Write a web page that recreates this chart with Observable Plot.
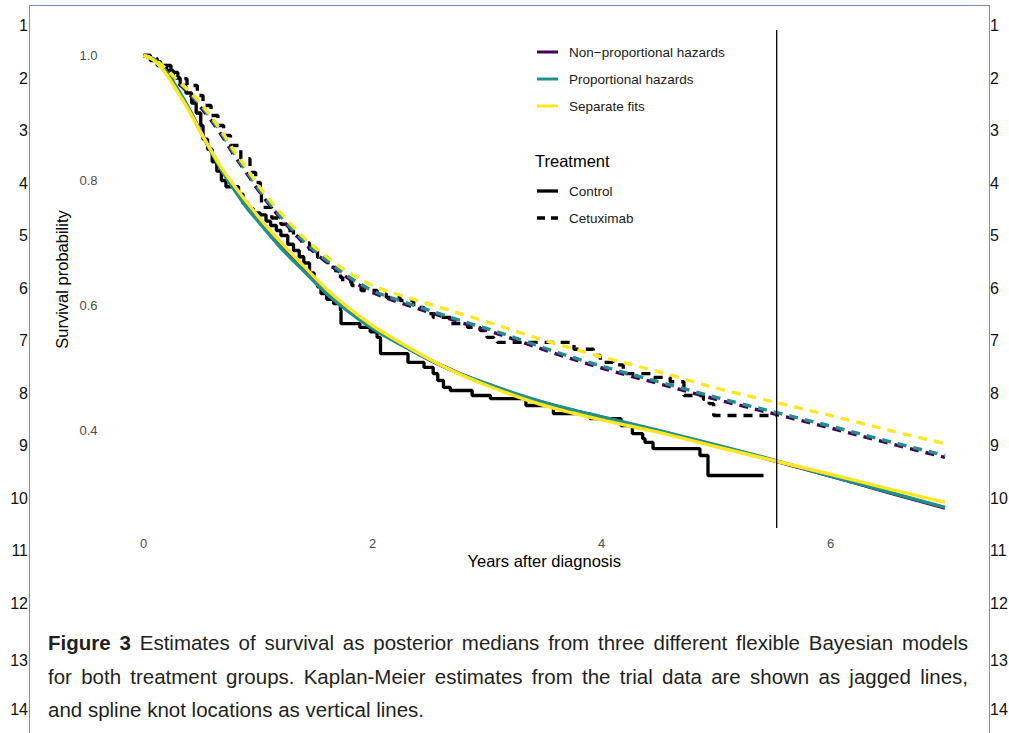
<!DOCTYPE html>
<html><head><meta charset="utf-8">
<script src="https://cdn.jsdelivr.net/npm/d3@7"></script>
<script src="https://cdn.jsdelivr.net/npm/@observablehq/plot@0.6"></script>
<style>
html,body{margin:0;padding:0;background:#fff;}
#page{position:relative;width:1009px;height:733px;overflow:hidden;font-family:"Liberation Sans",Arial,Helvetica,sans-serif;background:#fff;}
#frame{position:absolute;left:29px;top:5px;width:961px;height:800px;border:1px solid #7390b8;box-sizing:border-box;}
.ln{position:absolute;font-size:16px;line-height:18px;color:#111;}
.lnL{left:0;width:28px;text-align:right;}
.lnR{left:990px;text-align:left;}
#chart{position:absolute;left:0;top:0;}
#legend{position:absolute;left:0;top:0;pointer-events:none;}
.cap{position:absolute;left:48px;width:920px;font-size:20.5px;line-height:24px;color:#231f20;white-space:nowrap;}
.just{text-align:justify;text-align-last:justify;white-space:normal;}
</style>
</head><body>
<div id="page">
  <div id="frame"></div>
  <div id="chart"></div>
  <svg id="legend" width="1009" height="600"></svg>
  <div class="cap just" style="top:631px;"><b>Figure 3</b> Estimates of survival as posterior medians from three different flexible Bayesian models</div>
  <div class="cap just" style="top:665px;">for both treatment groups. Kaplan-Meier estimates from the trial data are shown as jagged lines,</div>
  <div class="cap" style="top:698px;">and spline knot locations as vertical lines.</div>
</div>
<script>
// ---------- data ----------
const lineNumbers = ["1","2","3","4","5","6","7","8","9","10","11","12","13","14"];
const lineNumberY = [26, 79, 131, 184, 236, 289, 341, 394, 446, 499, 551, 604, 661, 710];

const xTicks = [0, 2, 4, 6];
const yTicks = [0.4, 0.6, 0.8, 1.0];
const knots = [5.53];

const modelNames = ["Non\u2212proportional hazards", "Proportional hazards", "Separate fits"];
const modelColors = ["#440154", "#21908C", "#FDE725"];
const armNames = ["Control", "Cetuximab"];

const times = [0, 0.1, 0.2, 0.3, 0.4, 0.5, 0.6, 0.7, 0.8, 0.9, 1.0, 1.2, 1.4, 1.6, 1.8, 2.0, 2.25, 2.5, 2.75, 3.0, 3.25, 3.5, 3.75, 4.0, 4.5, 5.0, 5.5, 6.0, 6.5, 7.0];

const ctrlNPH = [1, 0.992, 0.972, 0.944, 0.913, 0.878, 0.844, 0.813, 0.786, 0.761, 0.738, 0.696, 0.659, 0.623, 0.592, 0.566, 0.538, 0.513, 0.492, 0.474, 0.458, 0.444, 0.432, 0.421, 0.399, 0.376, 0.352, 0.327, 0.301, 0.276];
const ctrlPH  = [1, 0.993, 0.974, 0.946, 0.914, 0.878, 0.843, 0.811, 0.783, 0.757, 0.735, 0.692, 0.655, 0.619, 0.589, 0.563, 0.537, 0.513, 0.492, 0.475, 0.459, 0.445, 0.433, 0.422, 0.400, 0.377, 0.353, 0.327, 0.302, 0.277];
const ctrlSep = [1, 0.991, 0.970, 0.941, 0.911, 0.877, 0.845, 0.815, 0.790, 0.766, 0.743, 0.701, 0.663, 0.626, 0.595, 0.568, 0.540, 0.514, 0.491, 0.472, 0.455, 0.440, 0.428, 0.417, 0.397, 0.374, 0.352, 0.330, 0.307, 0.285];

const cetNPH = [1, 0.993, 0.977, 0.957, 0.938, 0.917, 0.894, 0.867, 0.838, 0.812, 0.785, 0.739, 0.700, 0.669, 0.642, 0.621, 0.604, 0.589, 0.574, 0.560, 0.545, 0.529, 0.514, 0.500, 0.475, 0.450, 0.427, 0.404, 0.380, 0.357];
const cetPH  = [1, 0.993, 0.978, 0.959, 0.941, 0.920, 0.897, 0.870, 0.841, 0.815, 0.788, 0.742, 0.703, 0.672, 0.645, 0.624, 0.607, 0.592, 0.577, 0.563, 0.548, 0.532, 0.517, 0.503, 0.478, 0.453, 0.430, 0.407, 0.383, 0.360];
const cetSep = [1, 0.993, 0.978, 0.960, 0.943, 0.923, 0.900, 0.874, 0.845, 0.820, 0.793, 0.748, 0.709, 0.678, 0.652, 0.632, 0.616, 0.602, 0.588, 0.574, 0.559, 0.544, 0.531, 0.518, 0.494, 0.468, 0.446, 0.424, 0.401, 0.379];

// Kaplan-Meier step points (time, survival)
const kmCtrlTime = [0, 0.06, 0.12, 0.2, 0.26, 0.32, 0.37, 0.42, 0.46, 0.5, 0.52, 0.56, 0.6, 0.64, 0.68, 0.72, 0.83, 0.87, 0.91, 0.96, 1.02, 1.07, 1.11, 1.16, 1.2, 1.26, 1.31, 1.36, 1.4, 1.45, 1.49, 1.52, 1.55, 1.6, 1.66, 1.72, 1.725, 1.89, 1.98, 2.04, 2.07, 2.31, 2.45, 2.53, 2.57, 2.62, 2.68, 2.87, 3.03, 3.34, 3.58, 3.90, 4.17, 4.27, 4.36, 4.38, 4.45, 4.86, 4.93, 5.415];
const kmCtrlSurv = [1, 0.992, 0.984, 0.976, 0.964, 0.952, 0.94, 0.924, 0.908, 0.888, 0.866, 0.85, 0.83, 0.815, 0.8, 0.79, 0.778, 0.763, 0.755, 0.748, 0.745, 0.735, 0.728, 0.72, 0.712, 0.698, 0.688, 0.678, 0.668, 0.652, 0.64, 0.63, 0.619, 0.61, 0.603, 0.592, 0.571, 0.565, 0.558, 0.549, 0.523, 0.509, 0.501, 0.491, 0.48, 0.469, 0.464, 0.456, 0.451, 0.44, 0.427, 0.419, 0.408, 0.395, 0.387, 0.381, 0.371, 0.36, 0.328, 0.328];

const kmCetTime = [0, 0.06, 0.12, 0.15, 0.24, 0.30, 0.38, 0.47, 0.52, 0.59, 0.65, 0.70, 0.76, 0.85, 0.93, 0.98, 1.02, 1.03, 1.12, 1.2, 1.25, 1.31, 1.38, 1.45, 1.52, 1.61, 1.68, 1.72, 1.74, 1.82, 1.9, 2.04, 2.12, 2.24, 2.36, 2.45, 2.53, 2.68, 2.83, 2.94, 3.0, 3.06, 3.09, 3.76, 3.93, 3.99, 4.10, 4.19, 4.45, 4.60, 4.72, 4.89, 4.94, 4.98, 5.53];
const kmCetSurv = [1, 0.995, 0.99, 0.984, 0.973, 0.963, 0.952, 0.936, 0.92, 0.904, 0.888, 0.872, 0.856, 0.835, 0.813, 0.797, 0.784, 0.757, 0.74, 0.73, 0.72, 0.71, 0.70, 0.688, 0.677, 0.661, 0.652, 0.645, 0.638, 0.632, 0.624, 0.619, 0.613, 0.608, 0.597, 0.587, 0.581, 0.571, 0.565, 0.56, 0.549, 0.544, 0.541, 0.53, 0.52, 0.509, 0.505, 0.491, 0.485, 0.478, 0.456, 0.45, 0.443, 0.424, 0.424];

// ---------- build ----------
const page = document.getElementById("page");
lineNumbers.forEach((n, i) => {
  for (const side of ["lnL", "lnR"]) {
    const d = document.createElement("div");
    d.className = "ln " + side;
    d.style.top = (lineNumberY[i] - 9) + "px";
    d.textContent = n;
    page.appendChild(d);
  }
});

const toRows = (ts, ss) => ts.map((t, i) => ({t, s: ss[i]}));
const modelSeries = [
  {arm: 0, m: 0, v: ctrlNPH}, {arm: 0, m: 1, v: ctrlPH}, {arm: 0, m: 2, v: ctrlSep},
  {arm: 1, m: 0, v: cetNPH}, {arm: 1, m: 1, v: cetPH}, {arm: 1, m: 2, v: cetSep}
];
const dash = "9,7";

const marks = [
  Plot.line(toRows(kmCtrlTime, kmCtrlSurv), {x: "t", y: "s", curve: "step-after", stroke: "black", strokeWidth: 3.3, strokeLinecap: "butt", strokeLinejoin: "miter"}),
  Plot.line(toRows(kmCetTime, kmCetSurv), {x: "t", y: "s", curve: "step-after", stroke: "black", strokeWidth: 3.3, strokeLinecap: "butt", strokeLinejoin: "miter", strokeDasharray: dash})
];
for (const m of [0, 1, 2]) {
  for (const s of modelSeries.filter(d => d.m === m)) {
    marks.push(Plot.line(toRows(times, s.v), {
      x: "t", y: "s", curve: "monotone-x",
      stroke: modelColors[s.m], strokeWidth: 3.4, strokeLinecap: "butt",
      strokeDasharray: s.arm === 1 ? dash : null,
      strokeDashoffset: s.m === 0 ? 2 : 0
    }));
  }
}
marks.push(Plot.ruleX(knots, {stroke: "black", strokeWidth: 1.3}));
marks.push(Plot.axisX({ticks: xTicks, tickSize: 0, tickPadding: 10, fontSize: 13, tickFormat: d3.format("d"), label: null}));
marks.push(Plot.axisY({ticks: yTicks, tickSize: 0, tickPadding: 46, fontSize: 13, tickFormat: d3.format(".1f"), label: null}));
marks.push(Plot.text(["Years after diagnosis"], {text: d => d, frameAnchor: "bottom", textAnchor: "middle", lineAnchor: "middle", dy: 33, fontSize: 16.5, fill: "black"}));
marks.push(Plot.text(["Survival probability"], {text: d => d, frameAnchor: "left", textAnchor: "middle", lineAnchor: "middle", dx: -81, rotate: -90, fontSize: 16.5, fill: "black"}));

const chart = Plot.plot({
  width: 1009, height: 590,
  marginLeft: 143, marginRight: 64.5, marginTop: 30, marginBottom: 62,
  x: {domain: [0, 7]},
  y: {domain: [0.2432, 1.04]},
  style: {background: "none", color: "#4d4d4d", fontFamily: "'Liberation Sans', Arial, sans-serif", fontSize: "13px", overflow: "visible"},
  marks
});
document.getElementById("chart").appendChild(chart);

// ---------- legend ----------
const lg = d3.select("#legend").attr("font-family", "'Liberation Sans', Arial, sans-serif");
const keyY = [52, 79, 106];
modelNames.forEach((name, i) => {
  lg.append("line").attr("x1", 537).attr("x2", 558).attr("y1", keyY[i]).attr("y2", keyY[i])
    .attr("stroke", modelColors[i]).attr("stroke-width", 3);
  lg.append("text").attr("x", 569).attr("y", keyY[i]).attr("dy", "0.35em")
    .attr("font-size", 13.5).attr("fill", "#1a1a1a").text(name);
});
lg.append("text").attr("x", 535).attr("y", 161).attr("dy", "0.35em").attr("font-size", 16.5).attr("fill", "black").text("Treatment");
const armY = [191, 218];
armNames.forEach((name, i) => {
  lg.append("line").attr("x1", 537).attr("x2", 558).attr("y1", armY[i]).attr("y2", armY[i])
    .attr("stroke", "black").attr("stroke-width", 3.3)
    .attr("stroke-dasharray", i === 1 ? "8,6" : null);
  lg.append("text").attr("x", 569).attr("y", armY[i]).attr("dy", "0.35em")
    .attr("font-size", 13.5).attr("fill", "#1a1a1a").text(name);
});
</script>
</body></html>
